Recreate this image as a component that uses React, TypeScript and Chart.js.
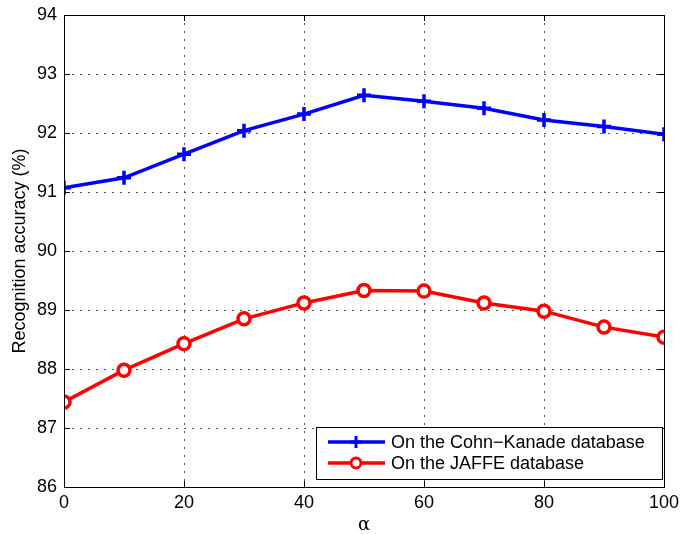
import React, { useEffect, useRef } from "react";
import { Chart, registerables } from "chart.js";

Chart.register(...registerables);

const alphaValues = [0, 10, 20, 30, 40, 50, 60, 70, 80, 90, 100];
const cohnKanade = [91.07, 91.24, 91.64, 92.04, 92.32, 92.64, 92.54, 92.42, 92.22, 92.11, 91.98];
const jaffe = [87.44, 87.98, 88.43, 88.85, 89.12, 89.33, 89.32, 89.12, 88.98, 88.71, 88.54];
const seriesNames = ["On the Cohn\u2212Kanade database", "On the JAFFE database"];
const FONT = "'Liberation Sans', Arial, Helvetica, sans-serif";

const frameAndTicks = {
  id: "frameAndTicks",
  afterDraw(chart: any) {
    const { ctx, chartArea: a, scales } = chart;
    ctx.save();
    ctx.strokeStyle = "#000";
    ctx.lineWidth = 1;
    ctx.setLineDash([]);
    const L = 6;
    ctx.beginPath();
    scales.x.ticks.forEach((t: any) => {
      const px = Math.round(scales.x.getPixelForValue(t.value)) + 0.5;
      ctx.moveTo(px, a.bottom);
      ctx.lineTo(px, a.bottom - L);
      ctx.moveTo(px, a.top);
      ctx.lineTo(px, a.top + L);
    });
    scales.y.ticks.forEach((t: any) => {
      const py = Math.round(scales.y.getPixelForValue(t.value)) + 0.5;
      ctx.moveTo(a.left, py);
      ctx.lineTo(a.left + L, py);
      ctx.moveTo(a.right, py);
      ctx.lineTo(a.right - L, py);
    });
    ctx.stroke();
    ctx.strokeRect(Math.round(a.left) + 0.5, Math.round(a.top) + 0.5, Math.round(a.right - a.left), Math.round(a.bottom - a.top));
    ctx.restore();
  },
};

const insideLegend = {
  id: "insideLegend",
  afterDraw(chart: any) {
    const { ctx, chartArea: a } = chart;
    const boxW = 346;
    const boxH = 52;
    const x0 = a.right - 2 - boxW;
    const y0 = a.bottom - 8 - boxH;
    ctx.save();
    ctx.fillStyle = "#fff";
    ctx.fillRect(x0, y0, boxW, boxH);
    ctx.strokeStyle = "#000";
    ctx.lineWidth = 1;
    ctx.strokeRect(Math.round(x0) + 0.5, Math.round(y0) + 0.5, boxW, boxH);
    chart.data.datasets.forEach((ds: any, i: number) => {
      const cy = y0 + 15 + i * 21;
      ctx.strokeStyle = ds.borderColor;
      ctx.lineWidth = 3.5;
      ctx.beginPath();
      ctx.moveTo(x0 + 12, cy);
      ctx.lineTo(x0 + 69, cy);
      ctx.stroke();
      const mx = x0 + 40;
      ctx.lineWidth = 3;
      if (ds.pointStyle === "cross") {
        ctx.beginPath();
        ctx.moveTo(mx - 6, cy);
        ctx.lineTo(mx + 6, cy);
        ctx.moveTo(mx, cy - 6);
        ctx.lineTo(mx, cy + 6);
        ctx.stroke();
      } else {
        ctx.fillStyle = "#fff";
        ctx.beginPath();
        ctx.arc(mx, cy, 5, 0, Math.PI * 2);
        ctx.fill();
        ctx.stroke();
      }
      ctx.fillStyle = "#000";
      ctx.font = `18px ${FONT}`;
      ctx.textBaseline = "middle";
      ctx.textAlign = "left";
      ctx.fillText(ds.label, x0 + 75, cy + 1);
    });
    ctx.restore();
  },
};

export default function App() {
  const ref = useRef<HTMLCanvasElement>(null);
  useEffect(() => {
    document.body.style.margin = "0";
    const canvas = ref.current!;
    const chart = new Chart(canvas, {
      type: "line",
      data: {
        datasets: [
          {
            label: seriesNames[0],
            data: alphaValues.map((x, i) => ({ x, y: cohnKanade[i] })),
            borderColor: "#0000ff",
            backgroundColor: "#0000ff",
            borderWidth: 3.5,
            pointStyle: "cross",
            pointRadius: 7,
            pointBorderWidth: 3.5,
            pointHoverRadius: 7,
          },
          {
            label: seriesNames[1],
            data: alphaValues.map((x, i) => ({ x, y: jaffe[i] })),
            borderColor: "#ff0000",
            backgroundColor: "#ffffff",
            borderWidth: 3.5,
            pointStyle: "circle",
            pointRadius: 6,
            pointBorderWidth: 3.5,
            pointHoverRadius: 6,
          },
        ],
      },
      options: {
        animation: false,
        responsive: false,
        devicePixelRatio: 1,
        layout: { padding: { top: 15, right: 16, left: 0, bottom: 0 } },
        plugins: { legend: { display: false }, tooltip: { enabled: false } },
        scales: {
          x: {
            type: "linear",
            min: 0,
            max: 100,
            ticks: { stepSize: 20, color: "#000", font: { family: FONT, size: 18 }, padding: 5, maxRotation: 0 },
            grid: { color: "#555", lineWidth: 1, drawTicks: false },
            border: { display: false, dash: [2, 6] },
            title: { display: true, text: "\u03b1", color: "#000", font: { family: "'DejaVu Serif', serif", size: 18 }, padding: { top: 0, bottom: -2 } },
            afterFit: (s: any) => { s.height = 47; s.paddingLeft = 0; s.paddingRight = 0; },
          },
          y: {
            min: 86,
            max: 94,
            ticks: { stepSize: 1, color: "#000", font: { family: FONT, size: 18 }, padding: 7 },
            grid: { color: "#555", lineWidth: 1, drawTicks: false },
            border: { display: false, dash: [2, 6] },
            title: { display: true, text: "Recognition accuracy (%)", color: "#000", font: { family: FONT, size: 18 }, padding: { top: 9, bottom: 0 } },
            afterFit: (s: any) => { s.width = 64; s.paddingTop = 0; s.paddingBottom = 0; },
          },
        },
      },
      plugins: [frameAndTicks, insideLegend],
    });
    return () => chart.destroy();
  }, []);
  return <canvas ref={ref} width={680} height={534} style={{ display: "block" }} />;
}
